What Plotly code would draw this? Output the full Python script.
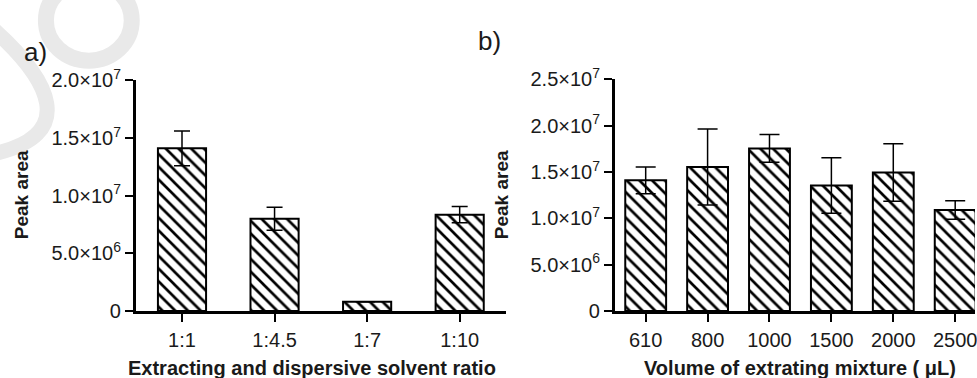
import plotly.graph_objects as go

# Panel a
ratio_cats = ["1:1", "1:4.5", "1:7", "1:10"]
ratio_vals = [1.41e7, 8.0e6, 8.0e5, 8.35e6]
ratio_errs = [1.5e6, 1.0e6, 0.0, 0.7e6]

# Panel b
vol_cats = ["610", "800", "1000", "1500", "2000", "2500"]
vol_vals = [1.41e7, 1.553e7, 1.755e7, 1.354e7, 1.495e7, 1.09e7]
vol_errs = [1.45e6, 4.1e6, 1.5e6, 3.0e6, 3.1e6, 1.0e6]

ya_tickvals = [0, 5e6, 1e7, 1.5e7, 2e7]
ya_ticktext = ["0", "5.0×10<sup>6</sup>", "1.0×10<sup>7</sup>", "1.5×10<sup>7</sup>", "2.0×10<sup>7</sup>"]
yb_tickvals = [0, 5e6, 1e7, 1.5e7, 2e7, 2.5e7]
yb_ticktext = ["0", "5.0×10<sup>6</sup>", "1.0×10<sup>7</sup>", "1.5×10<sup>7</sup>",
               "2.0×10<sup>7</sup>", "2.5×10<sup>7</sup>"]

W, H = 977, 378
FONT = "Liberation Sans, Arial, sans-serif"
TXT = "#1a1a1a"

def px(x):
    return x / W

def py(y):
    return (H - y) / H

pattern = dict(shape="\\", size=9, solidity=0.3, fgcolor="black", bgcolor="white", fillmode="replace")

fig = go.Figure()
fig.add_trace(go.Bar(
    x=ratio_cats, y=ratio_vals, width=0.52, xaxis="x", yaxis="y",
    marker=dict(color="white", line=dict(color="black", width=2), pattern=pattern),
    error_y=dict(type="data", array=ratio_errs, visible=True, color="black", thickness=1.5, width=8),
    showlegend=False,
))
fig.add_trace(go.Bar(
    x=vol_cats, y=vol_vals, width=0.66, xaxis="x2", yaxis="y2",
    marker=dict(color="white", line=dict(color="black", width=2), pattern=pattern),
    error_y=dict(type="data", array=vol_errs, visible=True, color="black", thickness=1.5, width=10),
    showlegend=False,
))

axis_common = dict(showline=True, linecolor="black", linewidth=2.5, ticks="outside",
                   ticklen=8, tickwidth=2, tickcolor="black", showgrid=False, zeroline=False,
                   tickfont=dict(family=FONT, size=20, color=TXT))

fig.update_layout(
    width=W, height=H, margin=dict(l=0, r=0, t=0, b=0),
    paper_bgcolor="white", plot_bgcolor="rgba(0,0,0,0)",
    xaxis=dict(domain=[px(136), px(507)], range=[-0.5, 3.5], anchor="y",
               ticklabelstandoff=1, **axis_common),
    yaxis=dict(domain=[py(318), py(71)], range=[0, 2e7], anchor="x",
               tickvals=ya_tickvals, ticktext=ya_ticktext, **axis_common),
    xaxis2=dict(domain=[px(616), 1.0], range=[-0.5, 5.32], anchor="y2",
                ticklabelstandoff=1, **axis_common),
    yaxis2=dict(domain=[py(318), py(70)], range=[0, 2.5e7], anchor="x2",
                tickvals=yb_tickvals, ticktext=yb_ticktext, **axis_common),
)

# faint watermark strokes (decorative, behind everything)
WM = "#e9e9e9"
def pt(x, y):
    return f"{px(x):.5f},{py(y):.5f}"

shapes = [
    dict(type="circle", xref="paper", yref="paper", layer="below",
         x0=px(46), x1=px(132), y0=py(50), y1=py(-36),
         line=dict(color=WM, width=16), fillcolor="rgba(0,0,0,0)"),
    dict(type="path", xref="paper", yref="paper", layer="below",
         path=f"M {pt(-8, 15)} C {pt(50, 70)} {pt(80, 130)} {pt(-8, 150)}",
         line=dict(color=WM, width=15), fillcolor="rgba(0,0,0,0)"),
]
fig.update_layout(shapes=shapes)

ann = []
ann.append(dict(text="a)", x=px(36), y=py(41), xref="paper", yref="paper", showarrow=False,
                font=dict(family=FONT, size=26, color=TXT), xanchor="center", yanchor="middle"))
ann.append(dict(text="b)", x=px(491), y=py(29), xref="paper", yref="paper", showarrow=False,
                font=dict(family=FONT, size=26, color=TXT), xanchor="center", yanchor="middle"))
ann.append(dict(text="<b>Peak area</b>", x=px(21), y=py(193), xref="paper", yref="paper", showarrow=False,
                font=dict(family=FONT, size=19, color=TXT), textangle=-90,
                xanchor="center", yanchor="middle"))
ann.append(dict(text="<b>Peak area</b>", x=px(502), y=py(193), xref="paper", yref="paper", showarrow=False,
                font=dict(family=FONT, size=19, color=TXT), textangle=-90,
                xanchor="center", yanchor="middle"))
ann.append(dict(text="<b>Extracting and dispersive solvent ratio</b>", x=px(313), y=py(379),
                xref="paper", yref="paper", showarrow=False,
                font=dict(family=FONT, size=20, color=TXT), xanchor="center", yanchor="middle"))
ann.append(dict(text="<b>Volume of extrating mixture ( μL)</b>", x=px(802), y=py(379),
                xref="paper", yref="paper", showarrow=False,
                font=dict(family=FONT, size=20, color=TXT), xanchor="center", yanchor="middle"))
fig.update_layout(annotations=ann)

fig.write_html("out.html")
